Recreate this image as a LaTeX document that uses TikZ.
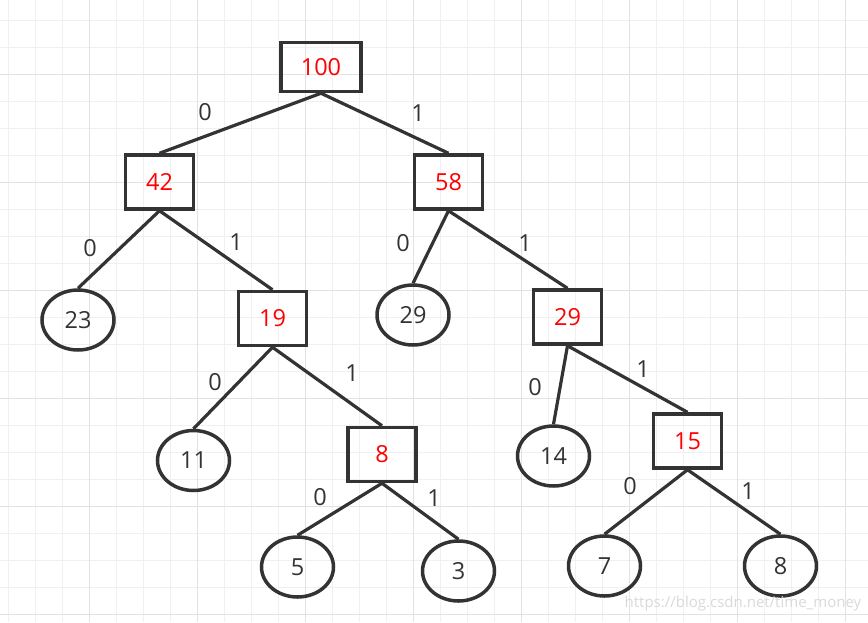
\documentclass[tikz,border=0pt]{standalone}
\usepackage{fontspec}
\setmainfont{Open Sans}
\usetikzlibrary{shapes.geometric}
\definecolor{ink}{HTML}{333333}
\definecolor{gridlight}{HTML}{F0F0F0}
\definecolor{griddark}{HTML}{E2E2E2}
\definecolor{wm}{HTML}{DADADA}
\tikzset{
  wbox/.style={draw=ink, line width=3.5pt, rectangle, minimum width=68pt, minimum height=54pt, inner sep=0pt, text=red, font=\fontsize{23.5}{25}\selectfont},
  leaf/.style={draw=ink, line width=3.5pt, ellipse, minimum width=72pt, minimum height=60pt, inner sep=0pt, text=ink, font=\fontsize{23.5}{25}\selectfont},
  edge/.style={draw=ink, line width=3.2pt},
  bit/.style={text=ink, font=\fontsize{23.5}{25}\selectfont, inner sep=0pt}
}
\begin{document}
\begin{tikzpicture}[x=1pt,y=-1pt]
\useasboundingbox (0,0) rectangle (868,622);
\fill[white] (0,0) rectangle (868,622);
% grid
\foreach \i in {0,...,32} {
  \pgfmathsetmacro{\xx}{8+27*\i}
  \draw[gridlight, line width=1pt] (\xx,0) -- (\xx,622);
}
\foreach \j in {0,...,22} {
  \pgfmathsetmacro{\yy}{20+27*\j}
  \draw[gridlight, line width=1pt] (0,\yy) -- (868,\yy);
}
\foreach \xx in {89,197,305,413,521,629,737,845} \draw[griddark, line width=1pt] (\xx,0) -- (\xx,622);
\foreach \yy in {74,182,290,398,506,614} \draw[griddark, line width=1pt] (0,\yy) -- (868,\yy);

% nodes
\node[wbox, minimum width=80pt, minimum height=49pt] (n100) at (321,67) {100};
\node[wbox] (n42) at (159.5,182) {42};
\node[wbox] (n58) at (448.5,182) {58};
\node[leaf] (l23) at (78,320) {23};
\node[wbox] (n19) at (272.5,318.5) {19};
\node[leaf] (l29) at (413,315) {29};
\node[wbox] (n29) at (567.5,317) {29};
\node[leaf] (l11) at (193.5,460.5) {11};
\node[wbox] (n8) at (382,454.5) {8};
\node[leaf] (l14) at (553.5,456) {14};
\node[wbox] (n15) at (687.5,441) {15};
\node[leaf] (l5) at (297.5,567) {5};
\node[leaf] (l3) at (458.5,571) {3};
\node[leaf] (l7) at (604.5,566) {7};
\node[leaf] (l8) at (780.5,566) {8};

% edges
\draw[edge] (n100.south) -- (n42.north);
\draw[edge] (n100.south) -- (n58.north);
\draw[edge] (n42.south) -- (l23.north);
\draw[edge] (n42.south) -- (n19.north);
\draw[edge] (n58.south) -- (l29.north);
\draw[edge] (n58.south) -- (n29.north);
\draw[edge] (n19.south) -- (l11.north);
\draw[edge] (n19.south) -- (n8.north);
\draw[edge] (n29.south) -- (l14.north);
\draw[edge] (n29.south) -- (n15.north);
\draw[edge] (n8.south) -- (l5.north);
\draw[edge] (n8.south) -- (l3.north);
\draw[edge] (n15.south) -- (l7.north);
\draw[edge] (n15.south) -- (l8.north);

% labels
\node[bit] (b1) at (205,112) {0};
\node[bit] (b2) at (418,113) {1};
\node[bit] (b3) at (90,248) {0};
\node[bit] (b4) at (236,242) {1};
\node[bit] (b5) at (403,243) {0};
\node[bit] (b6) at (525,243) {1};
\node[bit] (b7) at (215,382) {0};
\node[bit] (b8) at (352,373) {1};
\node[bit] (b9) at (535,387) {0};
\node[bit] (b10) at (643,369) {1};
\node[bit] (b11) at (320,497) {0};
\node[bit] (b12) at (434,498) {1};
\node[bit] (b13) at (630,486) {0};
\node[bit] (b14) at (748,491) {1};

% watermark
\node[text=wm, font=\fontsize{15}{16}\selectfont, inner sep=0pt] (wmk) at (743,604) {https://blog.csdn.net/time\_money};
\end{tikzpicture}
\end{document}
